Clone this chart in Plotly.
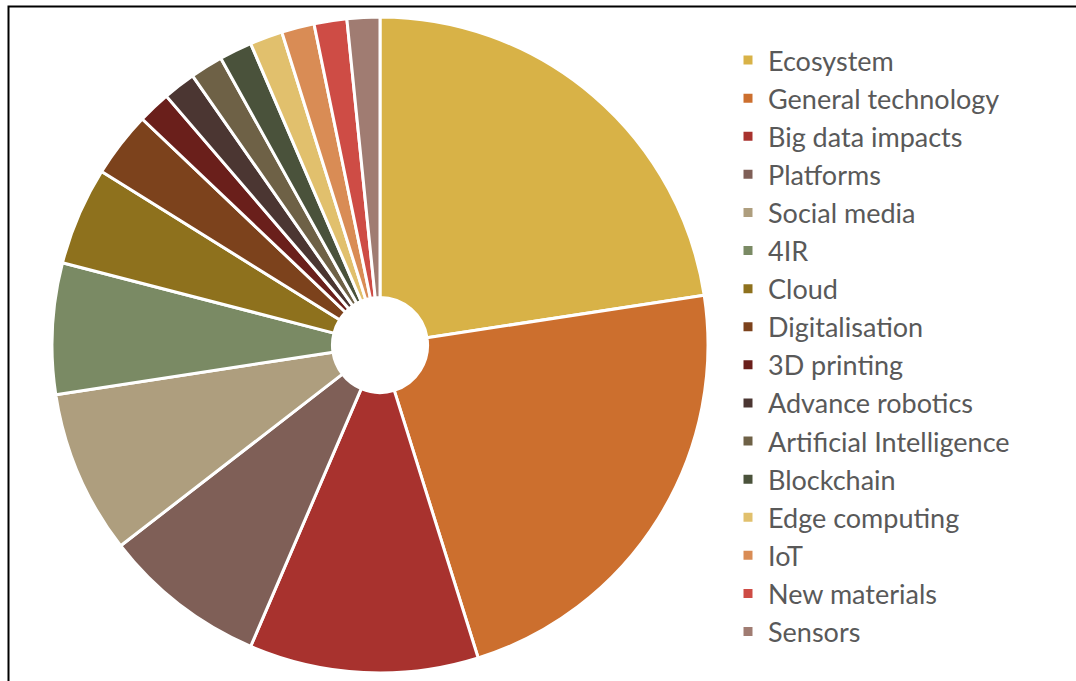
import plotly.graph_objects as go

categories = ["Ecosystem", "General technology", "Big data impacts", "Platforms",
              "Social media", "4IR", "Cloud", "Digitalisation", "3D printing",
              "Advance robotics", "Artificial Intelligence", "Blockchain",
              "Edge computing", "IoT", "New materials", "Sensors"]
values = [14, 14, 7, 5, 5, 4, 3, 2, 1, 1, 1, 1, 1, 1, 1, 1]
colors = ["#D8B247", "#CC6F2E", "#A8322E", "#7F5F57", "#AE9E7E", "#7A8A64",
          "#8E711D", "#7C421C", "#6A1F1B", "#4B3632", "#6E6146", "#4A523B",
          "#E1C06D", "#D98C55", "#CE4C45", "#A07C72"]

W, H = 1076, 681
cx, cy, R = 380, 345, 328

fig = go.Figure(go.Pie(
    labels=categories, values=values, sort=False, direction="clockwise",
    rotation=0, hole=0.145, textinfo="none", hoverinfo="label+value+percent",
    marker=dict(colors=colors, line=dict(color="white", width=3)),
    domain=dict(x=[(cx - R) / W, (cx + R) / W],
                y=[(H - cy - R) / H, (H - cy + R) / H]),
))

fig.update_layout(
    width=W, height=H,
    margin=dict(l=0, r=0, t=0, b=0),
    paper_bgcolor="white",
    showlegend=True,
    legend=dict(x=728 / W, y=1 - 36 / H, xanchor="left", yanchor="top",
                font=dict(family="Lato", size=27, color="#595959"),
                bgcolor="rgba(0,0,0,0)"),
    shapes=[dict(type="rect", xref="paper", yref="paper",
                 x0=8.5 / W, x1=1.02, y0=-0.02, y1=1 - 6.5 / H,
                 line=dict(color="black", width=2), layer="below")],
)

fig.write_html("out.html",
               config={"displayModeBar": False},
               post_script="document.body.style.margin='0';"
                           "document.body.style.overflow='hidden';")
